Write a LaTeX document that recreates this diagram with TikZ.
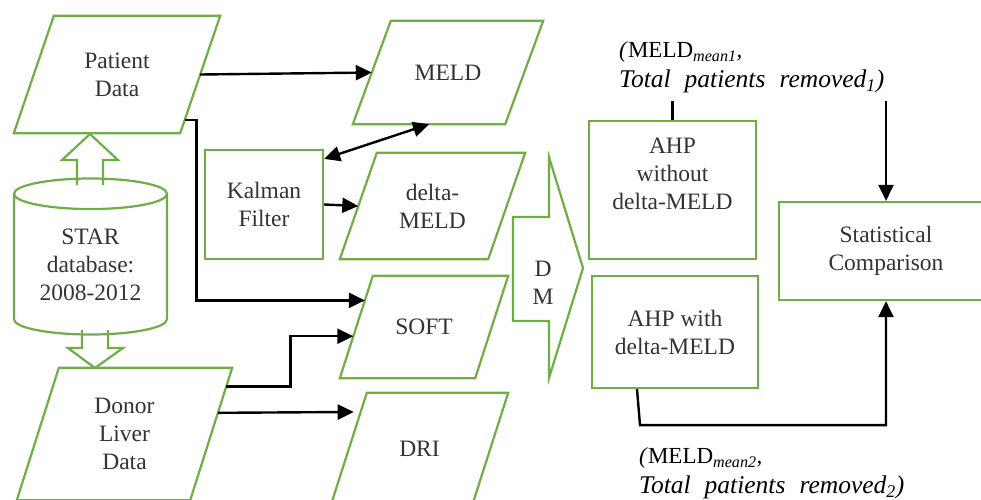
\documentclass[tikz,border=0pt]{standalone}
\usepackage{fontspec}
\setmainfont{Liberation Serif}
\usetikzlibrary{shapes.geometric, arrows.meta, positioning, calc}
\definecolor{flowgreen}{RGB}{112, 173, 71}
\definecolor{flowtext}{RGB}{51, 51, 51}

\begin{document}
\begin{tikzpicture}[x=1pt, y=-1pt,
    every node/.style={font=\fontsize{23.5}{28}\selectfont, text=flowtext, align=center, inner sep=0pt},
    greenline/.style={draw=flowgreen, line width=2.2pt, line join=miter},
    para/.style={rectangle, append after command={\pgfextra{\edef\paraname{\tikzlastnode}
        \draw[greenline] ([xshift=#1]\paraname.north west) coordinate (\paraname-tl)
          -- ([xshift=#1]\paraname.north east) coordinate (\paraname-tr)
          -- ([xshift=-#1]\paraname.south east) coordinate (\paraname-br)
          -- ([xshift=-#1]\paraname.south west) coordinate (\paraname-bl) -- cycle;}}},
    box/.style={rectangle, greenline},
    arrow/.style={-{Triangle[length=16pt, width=15pt]}, line width=2.4pt},
    dblarrow/.style={arrow, {Triangle[length=16pt, width=15pt]}-{Triangle[length=16pt, width=15pt]}},
    result/.style={font=\fontsize{23}{30}\selectfont, text=black, align=left, anchor=west}
  ]
  \useasboundingbox (0,0) rectangle (981,499);

  % data sources
  \node[para=20, minimum width=166pt, minimum height=117pt] (pd) at (117,74.5) {Patient\\Data};
  \node[cylinder, shape border rotate=90, greenline, aspect=0.3, minimum width=153pt, minimum height=156pt, anchor=shape center] (star) at (90.5,256.5) {STAR\\database:\\2008-2012};
  \node[para=21, minimum width=173pt, minimum height=132pt] (donor) at (124.5,434) {Donor\\Liver\\Data};
  \draw[greenline] (77,185) -- (77,160) -- (62,160) -- (90,134) -- (118,160) -- (103,160) -- (103,185);
  \draw[greenline] (82,330) -- (82,348) -- (68,348) -- (95,368) -- (123,348) -- (108,348) -- (108,330);

  % scores
  \node[box, minimum width=118pt, minimum height=109pt] (kf) at (264,204.5) {Kalman\\Filter};
  \node[para=19, minimum width=152pt, minimum height=103pt] (meld) at (448,72.5) {MELD};
  \node[para=18.5, minimum width=148pt, minimum height=106pt] (dmeld) at (432.5,206) {delta-\\MELD};
  \node[para=16.5, minimum width=135pt, minimum height=102pt] (soft) at (424,327) {SOFT};
  \node[para=18, minimum width=141pt, minimum height=112pt] (dri) at (419.5,449) {DRI};

  % decision making
  \draw[greenline] (513,217) -- (549,217) -- (549,157) -- (583,268) -- (549,378) -- (549,321) -- (513,321) -- cycle;
  \node (dmlabel) at (543,283) {D\\M};
  \node[box, minimum width=167pt, minimum height=138pt] (ahp1) at (672.5,190) {};
  \node[anchor=north] (ahp1text) at ([yshift=-18pt]ahp1.north) {AHP\\without\\delta-MELD};
  \node[box, minimum width=166pt, minimum height=112pt] (ahp2) at (675,332) {AHP with\\delta-MELD};
  \node[box, minimum width=214pt, minimum height=98pt] (stat) at (886,251) {Statistical\\Comparison};

  \node[result] (res1) at (619,67) {\textit{(}MELD\textsubscript{\textit{mean1}}\textit{,}\\{\fontsize{25.5}{30}\selectfont\itshape Total\hspace{0.3em} patients\hspace{0.3em} removed\textsubscript{1})}};
  \node[result] (res2) at (639,473) {\textit{(}MELD\textsubscript{\textit{mean2}}\textit{,}\\{\fontsize{25.5}{30}\selectfont\itshape Total\hspace{0.3em} patients\hspace{0.3em} removed\textsubscript{2})}};

  % connectors
  \draw[arrow] (pd.east) -- (meld.west);
  \draw[arrow] ($(pd-tr)!0.89!(pd-br)$) -- ++(12,0) |- ($(soft-tl)!0.24!(soft-bl)$);
  \draw[arrow] ($(donor-tr)!0.14!(donor-br)$) -- ++(64,0) |- ($(soft-tl)!0.59!(soft-bl)$);
  \draw[arrow, shorten >=7pt] ($(donor-tr)!0.34!(donor-br)$) -- ($(dri-tl)!0.17!(dri-bl)$);
  \draw[dblarrow] ([yshift=-10pt]kf.north east) -- ($(meld-bl)!0.5!(meld-br)$);
  \draw[arrow] (kf.east) -- (dmeld.west);

  \draw[line width=2.4pt] (ahp1.north) -- ++(0,-19);
  \coordinate (statin) at ([yshift=100pt]stat.north);
  \draw[arrow] (statin) -- (stat.north);
  \draw[arrow] ([xshift=-38pt]ahp2.south) -- ++(3,36) -| (stat.south);
\end{tikzpicture}
\end{document}
